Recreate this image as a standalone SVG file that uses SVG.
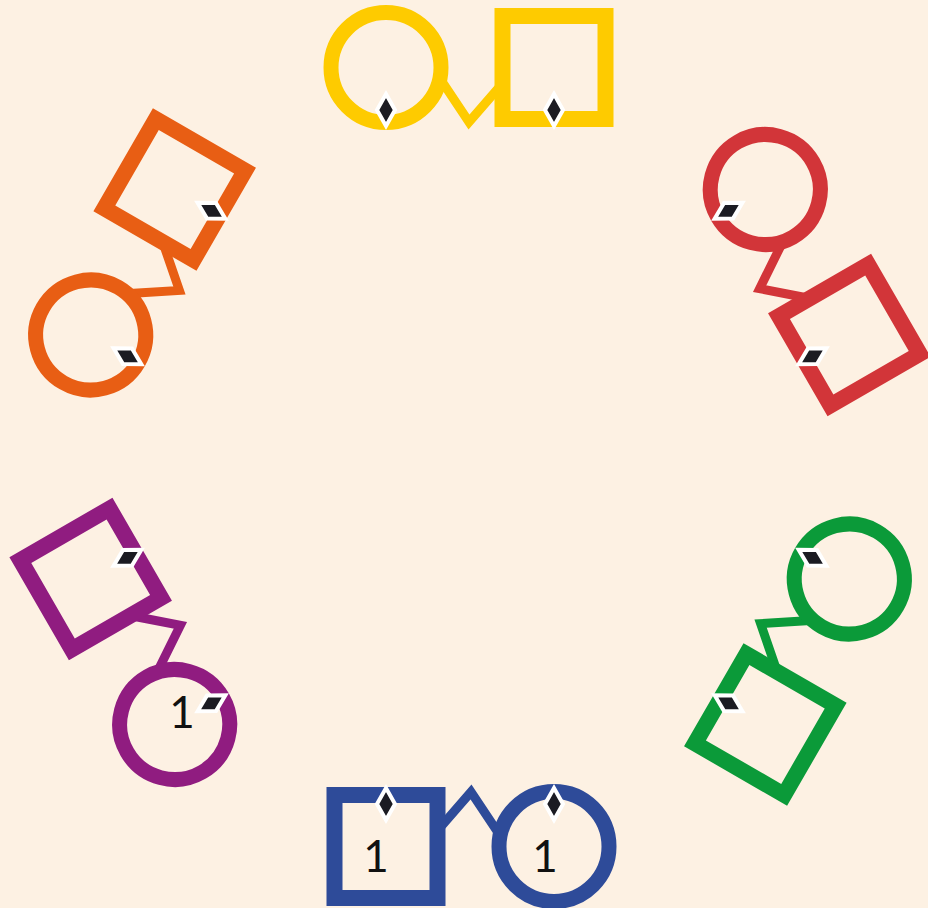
<svg xmlns="http://www.w3.org/2000/svg" xmlns:xlink="http://www.w3.org/1999/xlink" width="928" height="908" viewBox="0 0 928 908">
<style>
.ring{fill:none;stroke-width:15}
.box{fill:none;stroke-width:16;stroke-linejoin:miter}
.zig{fill:none;stroke-width:9;stroke-linejoin:miter;stroke-miterlimit:10}
.yellow{stroke:#FECB00}
.red{stroke:#D23539}
.green{stroke:#0B9A39}
.blue{stroke:#2E4B99}
.purple{stroke:#901C80}
.orange{stroke:#E85E14}
.lbl{font-family:Lato,"DejaVu Sans",sans-serif;font-size:44px;fill:#111;text-anchor:middle}
</style>
<defs>
<polygon id="dia" points="0,-16 9,0 0,16 -9,0" fill="#1b1b22" stroke="#ffffff" stroke-width="4" stroke-linejoin="miter"/>
</defs>
<rect width="928" height="908" fill="#FDF1E3"/>
<g id="connectors">
<polyline class="zig yellow" points="439,77 469,122 502,84"/>
<polyline class="zig red" points="439,77 469,122 502,84" transform="rotate(60 470 457)"/>
<polyline class="zig green" points="439,77 469,122 502,84" transform="rotate(120 470 457)"/>
<polyline class="zig blue" points="439,77 469,122 502,84" transform="rotate(180 470 457)"/>
<polyline class="zig purple" points="439,77 469,122 502,84" transform="rotate(240 470 457)"/>
<polyline class="zig orange" points="439,77 469,122 502,84" transform="rotate(300 470 457)"/>
</g>
<g id="yellow-circle">
<circle class="ring yellow" cx="386" cy="67.5" r="55"/>
<use xlink:href="#dia" x="386" y="110"/>
</g>
<g id="yellow-square">
<rect class="box yellow" x="502.5" y="16" width="103" height="103"/>
<use xlink:href="#dia" x="554" y="110"/>
</g>
<g id="red-circle" transform="rotate(60 470 457)">
<circle class="ring red" cx="386" cy="67.5" r="55"/>
<use xlink:href="#dia" x="386" y="110"/>
</g>
<g id="red-square" transform="rotate(60 470 457)">
<rect class="box red" x="502.5" y="16" width="103" height="103"/>
<use xlink:href="#dia" x="554" y="110"/>
</g>
<g id="green-circle" transform="rotate(120 470 457)">
<circle class="ring green" cx="386" cy="67.5" r="55"/>
<use xlink:href="#dia" x="386" y="110"/>
</g>
<g id="green-square" transform="rotate(120 470 457)">
<rect class="box green" x="502.5" y="16" width="103" height="103"/>
<use xlink:href="#dia" x="554" y="110"/>
</g>
<g id="blue-circle">
<g transform="rotate(180 470 457)">
<circle class="ring blue" cx="386" cy="67.5" r="55"/>
<use xlink:href="#dia" x="386" y="110"/>
</g>
<text class="lbl" x="545" y="872">1</text>
</g>
<g id="blue-square">
<g transform="rotate(180 470 457)">
<rect class="box blue" x="502.5" y="16" width="103" height="103"/>
<use xlink:href="#dia" x="554" y="110"/>
</g>
<text class="lbl" x="376" y="872">1</text>
</g>
<g id="purple-circle">
<g transform="rotate(240 470 457)">
<circle class="ring purple" cx="386" cy="67.5" r="55"/>
<use xlink:href="#dia" x="386" y="110"/>
</g>
<text class="lbl" x="182" y="728">1</text>
</g>
<g id="purple-square" transform="rotate(240 470 457)">
<rect class="box purple" x="502.5" y="16" width="103" height="103"/>
<use xlink:href="#dia" x="554" y="110"/>
</g>
<g id="orange-circle" transform="rotate(300 470 457)">
<circle class="ring orange" cx="386" cy="67.5" r="55"/>
<use xlink:href="#dia" x="386" y="110"/>
</g>
<g id="orange-square" transform="rotate(300 470 457)">
<rect class="box orange" x="502.5" y="16" width="103" height="103"/>
<use xlink:href="#dia" x="554" y="110"/>
</g>
</svg>
